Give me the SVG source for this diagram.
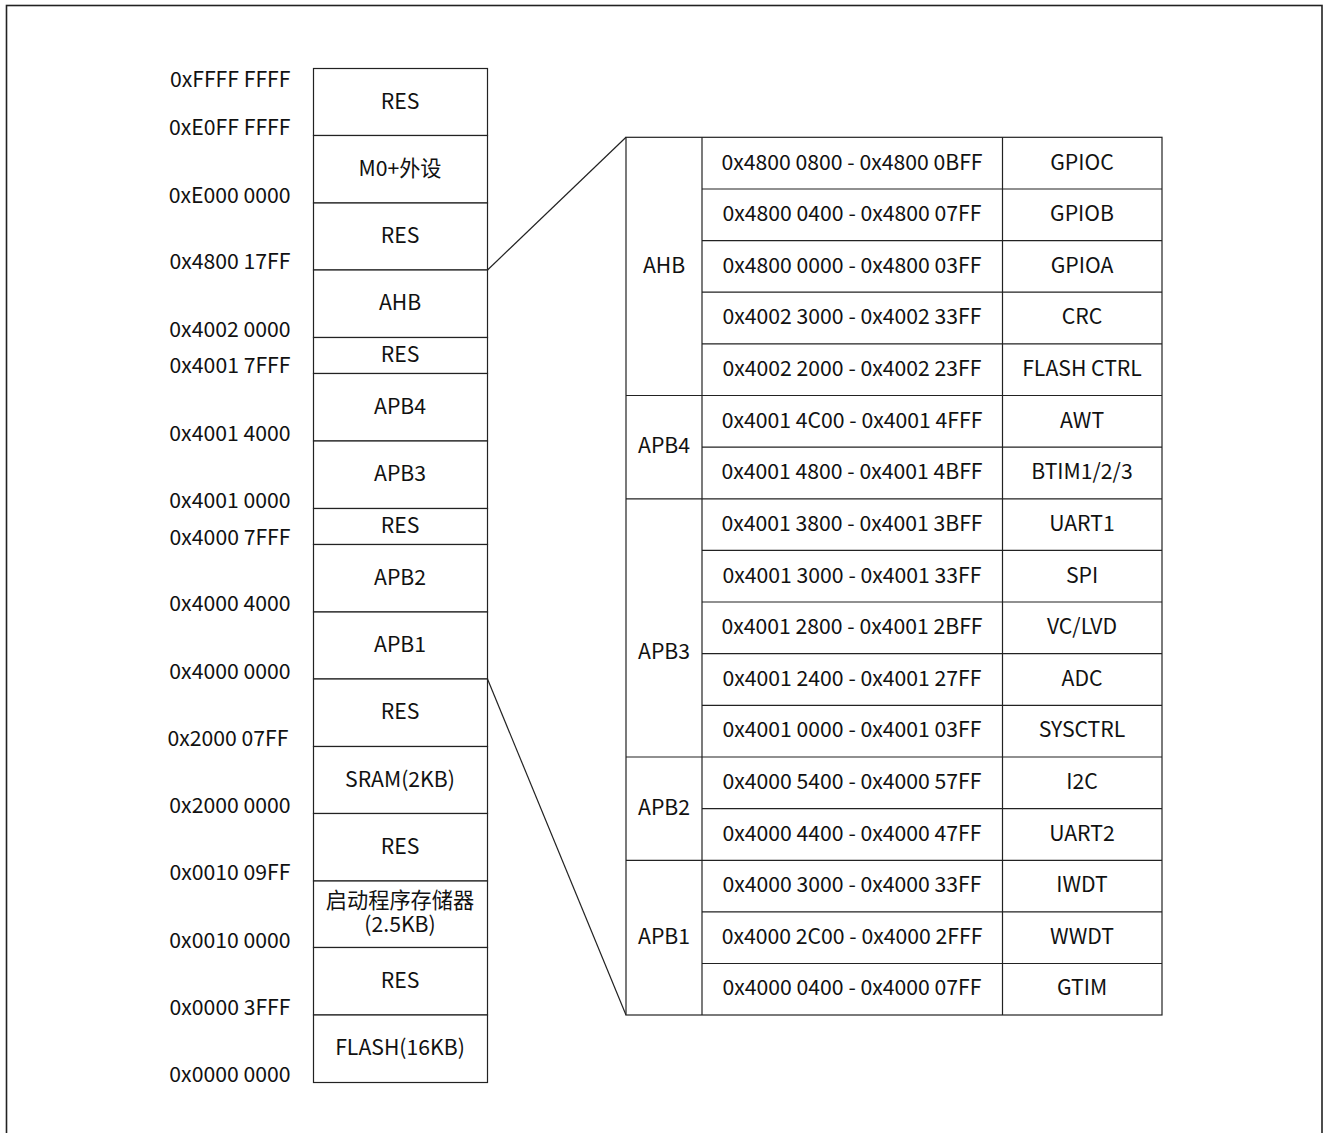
<svg xmlns="http://www.w3.org/2000/svg" width="1330" height="1133" viewBox="0 0 1330 1133">
<style>
text{font-family:"Noto Sans CJK SC","Noto Sans",sans-serif;font-size:21.2px;fill:#111}
.c{text-anchor:middle}
.r{text-anchor:end}
.b{fill:#fff;stroke:#222;stroke-width:1.2}
.l{stroke:#222;stroke-width:1.2;fill:none}
</style>
<rect x="6.5" y="5.5" width="1315.5" height="1140" fill="none" stroke="#222" stroke-width="1.6"/>
<g id="addresses">
<text class="r" x="290.5" y="87">0xFFFF FFFF</text>
<text class="r" x="290.5" y="135">0xE0FF FFFF</text>
<text class="r" x="290.5" y="203">0xE000 0000</text>
<text class="r" x="290.5" y="269">0x4800 17FF</text>
<text class="r" x="290.5" y="337">0x4002 0000</text>
<text class="r" x="290.5" y="373">0x4001 7FFF</text>
<text class="r" x="290.5" y="441">0x4001 4000</text>
<text class="r" x="290.5" y="508">0x4001 0000</text>
<text class="r" x="290.5" y="545">0x4000 7FFF</text>
<text class="r" x="290.5" y="611">0x4000 4000</text>
<text class="r" x="290.5" y="679">0x4000 0000</text>
<text class="r" x="288.5" y="746">0x2000 07FF</text>
<text class="r" x="290.5" y="813">0x2000 0000</text>
<text class="r" x="290.5" y="880">0x0010 09FF</text>
<text class="r" x="290.5" y="948">0x0010 0000</text>
<text class="r" x="290.5" y="1015">0x0000 3FFF</text>
<text class="r" x="290.5" y="1082">0x0000 0000</text>
</g>
<g id="memmap">
<g id="m1"><rect class="b" x="313.5" y="68.5" width="174" height="67"/><text class="c" x="400" y="109">RES</text></g>
<g id="m2"><rect class="b" x="313.5" y="135.5" width="174" height="67.5"/><text class="c" x="400" y="176">M0+外设</text></g>
<g id="m3"><rect class="b" x="313.5" y="203" width="174" height="67"/><text class="c" x="400" y="243">RES</text></g>
<g id="m4"><rect class="b" x="313.5" y="270" width="174" height="67.5"/><text class="c" x="400" y="310">AHB</text></g>
<g id="m5"><rect class="b" x="313.5" y="337.5" width="174" height="36"/><text class="c" x="400" y="362">RES</text></g>
<g id="m6"><rect class="b" x="313.5" y="373.5" width="174" height="67.5"/><text class="c" x="400" y="414">APB4</text></g>
<g id="m7"><rect class="b" x="313.5" y="441" width="174" height="67.5"/><text class="c" x="400" y="481">APB3</text></g>
<g id="m8"><rect class="b" x="313.5" y="508.5" width="174" height="36"/><text class="c" x="400" y="533">RES</text></g>
<g id="m9"><rect class="b" x="313.5" y="544.5" width="174" height="67.5"/><text class="c" x="400" y="585">APB2</text></g>
<g id="m10"><rect class="b" x="313.5" y="612" width="174" height="67"/><text class="c" x="400" y="652">APB1</text></g>
<g id="m11"><rect class="b" x="313.5" y="679" width="174" height="67.5"/><text class="c" x="400" y="719">RES</text></g>
<g id="m12"><rect class="b" x="313.5" y="746.5" width="174" height="67"/><text class="c" x="400" y="787">SRAM(2KB)</text></g>
<g id="m13"><rect class="b" x="313.5" y="813.5" width="174" height="67.5"/><text class="c" x="400" y="854">RES</text></g>
<g id="m14"><rect class="b" x="313.5" y="881" width="174" height="66.5"/><text class="c" x="400" y="908">启动程序存储器</text><text class="c" x="400" y="932">(2.5KB)</text></g>
<g id="m15"><rect class="b" x="313.5" y="947.5" width="174" height="67.5"/><text class="c" x="400" y="988">RES</text></g>
<g id="m16"><rect class="b" x="313.5" y="1015" width="174" height="67.5"/><text class="c" x="400" y="1055">FLASH(16KB)</text></g>
</g>
<g id="connectors">
<line class="l" x1="487.5" y1="270" x2="626" y2="137.3"/>
<line class="l" x1="487.5" y1="679" x2="626" y2="1015"/>
</g>
<g id="table">
<rect class="b" x="626" y="137.3" width="536" height="877.7"/>
<g id="groups" class="l">
<line x1="626" y1="395.5" x2="1162" y2="395.5"/>
<line x1="626" y1="498.8" x2="1162" y2="498.8"/>
<line x1="626" y1="757" x2="1162" y2="757"/>
<line x1="626" y1="860.3" x2="1162" y2="860.3"/>
<line x1="702" y1="137.3" x2="702" y2="1015"/>
<line x1="1002.5" y1="137.3" x2="1002.5" y2="1015"/>
<line x1="702" y1="189" x2="1162" y2="189"/>
<line x1="702" y1="240.6" x2="1162" y2="240.6"/>
<line x1="702" y1="292.2" x2="1162" y2="292.2"/>
<line x1="702" y1="343.9" x2="1162" y2="343.9"/>
<line x1="702" y1="447.2" x2="1162" y2="447.2"/>
<line x1="702" y1="550.4" x2="1162" y2="550.4"/>
<line x1="702" y1="602" x2="1162" y2="602"/>
<line x1="702" y1="653.7" x2="1162" y2="653.7"/>
<line x1="702" y1="705.3" x2="1162" y2="705.3"/>
<line x1="702" y1="808.6" x2="1162" y2="808.6"/>
<line x1="702" y1="911.9" x2="1162" y2="911.9"/>
<line x1="702" y1="963.5" x2="1162" y2="963.5"/>
</g>
<g id="bus-labels">
<text class="c" x="664" y="273">AHB</text>
<text class="c" x="664" y="453">APB4</text>
<text class="c" x="664" y="659">APB3</text>
<text class="c" x="664" y="815">APB2</text>
<text class="c" x="664" y="944">APB1</text>
</g>
<g id="ranges">
<text class="c" x="852" y="170">0x4800 0800 - 0x4800 0BFF</text>
<text class="c" x="852" y="221">0x4800 0400 - 0x4800 07FF</text>
<text class="c" x="852" y="273">0x4800 0000 - 0x4800 03FF</text>
<text class="c" x="852" y="324">0x4002 3000 - 0x4002 33FF</text>
<text class="c" x="852" y="376">0x4002 2000 - 0x4002 23FF</text>
<text class="c" x="852" y="428">0x4001 4C00 - 0x4001 4FFF</text>
<text class="c" x="852" y="479">0x4001 4800 - 0x4001 4BFF</text>
<text class="c" x="852" y="531">0x4001 3800 - 0x4001 3BFF</text>
<text class="c" x="852" y="583">0x4001 3000 - 0x4001 33FF</text>
<text class="c" x="852" y="634">0x4001 2800 - 0x4001 2BFF</text>
<text class="c" x="852" y="686">0x4001 2400 - 0x4001 27FF</text>
<text class="c" x="852" y="737">0x4001 0000 - 0x4001 03FF</text>
<text class="c" x="852" y="789">0x4000 5400 - 0x4000 57FF</text>
<text class="c" x="852" y="841">0x4000 4400 - 0x4000 47FF</text>
<text class="c" x="852" y="892">0x4000 3000 - 0x4000 33FF</text>
<text class="c" x="852" y="944">0x4000 2C00 - 0x4000 2FFF</text>
<text class="c" x="852" y="995">0x4000 0400 - 0x4000 07FF</text>
</g>
<g id="peripherals">
<text class="c" x="1082" y="170">GPIOC</text>
<text class="c" x="1082" y="221">GPIOB</text>
<text class="c" x="1082" y="273">GPIOA</text>
<text class="c" x="1082" y="324">CRC</text>
<text class="c" x="1082" y="376">FLASH CTRL</text>
<text class="c" x="1082" y="428">AWT</text>
<text class="c" x="1082" y="479">BTIM1/2/3</text>
<text class="c" x="1082" y="531">UART1</text>
<text class="c" x="1082" y="583">SPI</text>
<text class="c" x="1082" y="634">VC/LVD</text>
<text class="c" x="1082" y="686">ADC</text>
<text class="c" x="1082" y="737">SYSCTRL</text>
<text class="c" x="1082" y="789">I2C</text>
<text class="c" x="1082" y="841">UART2</text>
<text class="c" x="1082" y="892">IWDT</text>
<text class="c" x="1082" y="944">WWDT</text>
<text class="c" x="1082" y="995">GTIM</text>
</g>
</g>
</svg>
